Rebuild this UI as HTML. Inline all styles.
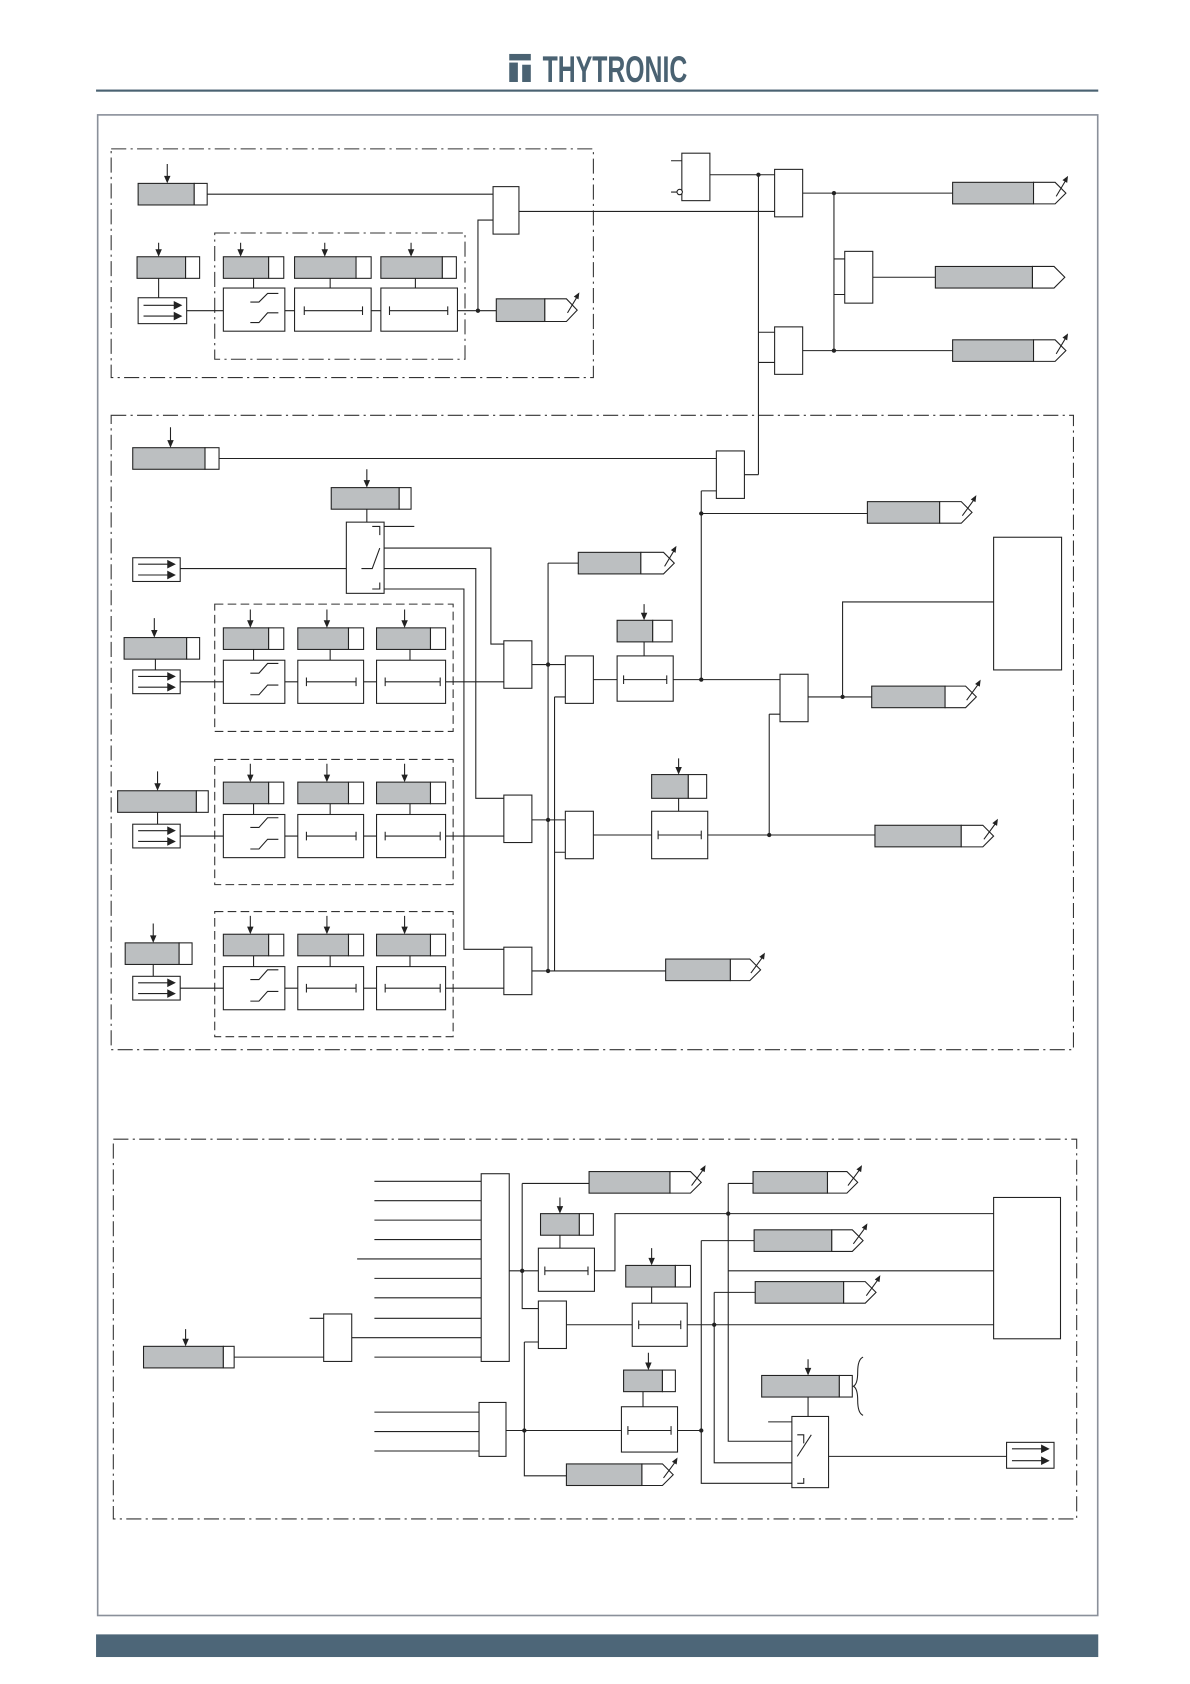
<!DOCTYPE html>
<html><head><meta charset="utf-8"><style>
html,body{margin:0;padding:0;background:#fff}
svg{display:block}
</style></head><body>
<svg width="1190" height="1684" viewBox="0 0 1103 1561" xmlns="http://www.w3.org/2000/svg">
<!-- header -->
<g fill="#4a6272">
<rect x="472" y="50" width="20" height="6"/><rect x="472" y="58" width="8" height="18"/><rect x="484" y="60" width="8" height="16"/>
<text x="503" y="76" font-family="Liberation Sans, sans-serif" font-size="34" font-weight="bold" textLength="134" lengthAdjust="spacingAndGlyphs">THYTRONIC</text>
</g>
<rect x="89" y="83" width="929" height="2" fill="#4a6272"/>
<rect x="90.5" y="106.5" width="927" height="1391" fill="none" stroke="#8a909a" stroke-width="1.5"/>
<rect x="89" y="1515" width="929" height="21" fill="#4d6678"/>

<g stroke="#222" stroke-width="1" fill="none">
<g stroke-dasharray="14,4,2,4" stroke="#333">
<rect x="103" y="138" width="447" height="212"/>
<rect x="199" y="216" width="232" height="117"/>
<rect x="103" y="385" width="892" height="588"/>
<rect x="105" y="1056" width="893" height="352"/>
</g>
<g stroke-dasharray="8,4" stroke="#333">
<rect x="199" y="560" width="221" height="118"/>
<rect x="199" y="704" width="221" height="116"/>
<rect x="199" y="845" width="221" height="116"/>
</g>
</g>

<g stroke="#222" stroke-width="1">
<g fill="#bcbfc1">
<rect x="128" y="170" width="52" height="20"/>
<rect x="127" y="238" width="45" height="20"/>
<rect x="207" y="238" width="42" height="20"/><rect x="273" y="238" width="57" height="20"/><rect x="353" y="238" width="57" height="20"/>
<rect x="460" y="277" width="45" height="21"/>
<rect x="883" y="169" width="75" height="20"/><rect x="867" y="247" width="90" height="20"/><rect x="883" y="315" width="75" height="20"/>
<rect x="123" y="415" width="67" height="20"/>
<rect x="307" y="452" width="63" height="20"/>
<rect x="804" y="465" width="67" height="20"/>
<rect x="536" y="512" width="58" height="20"/>
<rect x="572" y="575" width="33" height="20"/>
<rect x="604" y="718" width="34" height="22"/>
<rect x="808" y="636" width="68" height="20"/>
<rect x="811" y="765" width="80" height="20"/>
<rect x="617" y="889" width="60" height="20"/>
<rect x="115" y="591" width="58" height="20"/><rect x="109" y="733" width="73" height="20"/><rect x="116" y="874" width="50" height="20"/>
<rect x="207" y="582" width="42" height="20"/><rect x="276" y="582" width="47" height="20"/><rect x="349" y="582" width="50" height="20"/>
<rect x="207" y="725" width="42" height="20"/><rect x="276" y="725" width="47" height="20"/><rect x="349" y="725" width="50" height="20"/>
<rect x="207" y="866" width="42" height="20"/><rect x="276" y="866" width="47" height="20"/><rect x="349" y="866" width="50" height="20"/>
<rect x="133" y="1248" width="74" height="20"/>
<rect x="546" y="1086" width="75" height="20"/>
<rect x="501" y="1125" width="36" height="20"/>
<rect x="580" y="1173" width="46" height="20"/>
<rect x="578" y="1270" width="36" height="20"/>
<rect x="525" y="1357" width="70" height="20"/>
<rect x="698" y="1086" width="69" height="20"/>
<rect x="699" y="1140" width="72" height="20"/>
<rect x="700" y="1188" width="82" height="20"/>
<rect x="706" y="1275" width="72" height="20"/>
</g>
<g fill="#fff">
<rect x="180" y="170" width="12" height="20"/>
<rect x="172" y="238" width="13" height="20"/>
<rect x="249" y="238" width="14" height="20"/><rect x="330" y="238" width="14" height="20"/><rect x="410" y="238" width="13" height="20"/>
<rect x="190" y="415" width="13" height="20"/>
<rect x="370" y="452" width="11" height="20"/>
<rect x="605" y="575" width="18" height="20"/>
<rect x="638" y="718" width="17" height="22"/>
<rect x="173" y="591" width="12" height="20"/><rect x="182" y="733" width="11" height="20"/><rect x="166" y="874" width="12" height="20"/>
<rect x="249" y="582" width="14" height="20"/><rect x="323" y="582" width="14" height="20"/><rect x="399" y="582" width="14" height="20"/>
<rect x="249" y="725" width="14" height="20"/><rect x="323" y="725" width="14" height="20"/><rect x="399" y="725" width="14" height="20"/>
<rect x="249" y="866" width="14" height="20"/><rect x="323" y="866" width="14" height="20"/><rect x="399" y="866" width="14" height="20"/>
<rect x="207" y="1248" width="10" height="20"/>
<rect x="537" y="1125" width="13" height="20"/>
<rect x="626" y="1173" width="14" height="20"/>
<rect x="614" y="1270" width="12" height="20"/>
<rect x="778" y="1275" width="12" height="20"/>
<path d="M505,277 H525 L535,287.5 L525,298 H505 Z"/>
<path d="M958,169 H978 L988,179 L978,189 H958 Z"/>
<path d="M957,247 H977 L987,257 L977,267 H957 Z"/>
<path d="M958,315 H978 L988,325 L978,335 H958 Z"/>
<path d="M871,465 H891 L901,475 L891,485 H871 Z"/>
<path d="M594,512 H615 L625,522 L615,532 H594 Z"/>
<path d="M876,636 H895 L905,646 L895,656 H876 Z"/>
<path d="M891,765 H911 L921,775 L911,785 H891 Z"/>
<path d="M677,889 H695 L705,899 L695,909 H677 Z"/>
<path d="M621,1086 H640 L650,1096 L640,1106 H621 Z"/>
<path d="M595,1357 H614 L624,1367 L614,1377 H595 Z"/>
<path d="M767,1086 H785 L795,1096 L785,1106 H767 Z"/>
<path d="M771,1140 H790 L800,1150 L790,1160 H771 Z"/>
<path d="M782,1188 H802 L812,1198 L802,1208 H782 Z"/>
</g>
</g>

<g stroke="#222" stroke-width="1" fill="#fff">
<rect x="457" y="173" width="24" height="44"/>
<rect x="632" y="142" width="26" height="44"/>
<rect x="718" y="157" width="26" height="44"/>
<rect x="718" y="303" width="26" height="44"/>
<rect x="783" y="233" width="26" height="48"/>
<rect x="128" y="276" width="45" height="24"/>
<rect x="207" y="267" width="57" height="40"/><rect x="273" y="267" width="71" height="40"/><rect x="353" y="267" width="71" height="40"/>
<rect x="664" y="418" width="26" height="44"/>
<rect x="321" y="484" width="35" height="66"/>
<rect x="123" y="517" width="44" height="22"/>
<rect x="123" y="621" width="44" height="22"/><rect x="123" y="764" width="44" height="22"/><rect x="123" y="905" width="44" height="22"/>
<rect x="207" y="612" width="57" height="40"/><rect x="276" y="612" width="61" height="40"/><rect x="349" y="612" width="64" height="40"/>
<rect x="207" y="755" width="57" height="40"/><rect x="276" y="755" width="61" height="40"/><rect x="349" y="755" width="64" height="40"/>
<rect x="207" y="896" width="57" height="40"/><rect x="276" y="896" width="61" height="40"/><rect x="349" y="896" width="64" height="40"/>
<rect x="467" y="594" width="26" height="44"/><rect x="467" y="737" width="26" height="44"/><rect x="467" y="878" width="26" height="44"/>
<rect x="524" y="608" width="26" height="44"/><rect x="524" y="752" width="26" height="44"/>
<rect x="572" y="608" width="52" height="42"/>
<rect x="604" y="752" width="52" height="44"/>
<rect x="723" y="625" width="26" height="44"/>
<rect x="921" y="498" width="63" height="123"/>
<rect x="300" y="1218" width="26" height="44"/>
<rect x="446" y="1088" width="26" height="174"/>
<rect x="444" y="1300" width="25" height="50"/>
<rect x="499" y="1157" width="52" height="40"/>
<rect x="499" y="1206" width="26" height="44"/>
<rect x="586" y="1208" width="51" height="40"/>
<rect x="576" y="1304" width="52" height="42"/>
<rect x="921" y="1110" width="62" height="131"/>
<rect x="734" y="1313" width="34" height="66"/>
<rect x="933" y="1337" width="44" height="24"/>
</g>

<g stroke="#222" stroke-width="1" fill="none">
<path d="M192,180H457 M481,196H718 M173,288H207 M264,288H273 M344,288H353 M424,288H460 M443,288V204H457 M147,258V276"/>
<path d="M622,149H632 M622,178H628 M658,162H718 M703,162V440 M703,308H718 M703,336H718 M744,179H883 M773,179V325 M773,240H783 M773,273H783 M809,257H867 M744,325H883"/>
<path d="M203,425H664 M690,440H703 M650,455H664 M650,455V630 M650,476H804"/>
<path d="M167,527H321 M356,488H384 M356,508H455V597H467 M356,527H441V740H467 M356,546H430V880H467 M340,472V484"/>
<path d="M167,632H207 M264,632H276 M337,632H349 M413,632H467 M144,611V621"/>
<path d="M167,775H207 M264,775H276 M337,775H349 M413,775H467 M146,753V764"/>
<path d="M167,916H207 M264,916H276 M337,916H349 M413,916H467 M142,894V905"/>
<path d="M235,602V612 M306,602V612 M380,602V612 M235,745V755 M306,745V755 M380,745V755 M235,886V896 M306,886V896 M380,886V896 M235,258V267 M306,258V267 M385,258V267"/>
<path d="M493,616H524 M508,522V900 M508,522H536 M514,646H524 M514,646V900 M493,760H524 M514,790H524 M493,900H617 M550,630H572 M597,595V608 M624,630H723 M713,662H723 M713,662V774 M749,646H808 M781,646V558H921 M550,774H604 M629,740V752 M656,774H811"/>
<path d="M217,1258H300 M287,1222H300 M326,1240H446 M347,1095H446 M347,1113H446 M347,1131H446 M347,1149H446 M331,1167H446 M347,1185H446 M347,1203H446 M347,1222H446 M347,1258H446 M347,1309H444 M347,1327H444 M347,1345H444"/>
<path d="M472,1178H499 M484,1097V1213H499 M484,1097H546 M519,1145V1157 M551,1178H570V1125H921 M525,1228H586 M604,1193V1208 M637,1228H921 M486,1244H499 M486,1244V1368H525 M469,1326H576 M596,1290V1304 M628,1326H650 M650,1150V1375H734 M650,1150H699 M662,1198V1356H734 M662,1198H700 M675,1097V1336H734 M675,1097H698 M675,1178H921 M768,1350H933 M749,1295V1313 M712,1318H734"/>
<path d="M800,1258 Q795,1260 795,1272 Q795,1283 791,1285 Q795,1287 795,1298 Q795,1310 800,1312"/>
<path d="M335,527H345L352,508"/><path d="M345,488H352V496 M345,546H352V540"/>
<path d="M739,1330H745V1338 M739,1375H745V1370 M739,1350L752,1330"/>
<path d="M232,299H240L248,290H258 M232,280H240L248,272H258"/>
<path d="M232,644H240L248,635H258 M232,624H240L248,615H258"/>
<path d="M232,787H240L248,778H258 M232,767H240L248,758H258"/>
<path d="M232,928H240L248,919H258 M232,908H240L248,899H258"/>
<path d="M282,288H336 M282,284V292 M336,284V292 M361,288H415 M361,284V292 M415,284V292"/>
<path d="M284,632H330 M284,628V636 M330,628V636 M357,632H408 M357,628V636 M408,628V636 M578,630H618 M578,626V634 M618,626V634"/>
<path d="M284,775H330 M284,771V779 M330,771V779 M357,775H408 M357,771V779 M408,771V779 M610,774H650 M610,770V778 M650,770V778"/>
<path d="M284,916H330 M284,912V920 M330,912V920 M357,916H408 M357,912V920 M408,912V920"/>
<path d="M505,1178H545 M505,1174V1182 M545,1174V1182 M592,1228H631 M592,1224V1232 M631,1224V1232 M582,1326H622 M582,1322V1330 M622,1322V1330"/>
<!-- arrow shafts -->
<path d="M133,283H162 M133,293H162 M128,523H156 M128,533H156 M128,627H156 M128,637H156 M128,770H156 M128,780H156 M128,911H156 M128,921H156 M938,1343H966 M938,1354H966"/>
<path d="M155,152V165 M147,225V233 M223,225V233 M301,225V233 M381,225V233 M158,396V410 M340,435V447 M143,573V586 M146,715V728 M142,856V869 M232,565V577 M303,565V577 M375,565V577 M232,708V720 M303,708V720 M375,708V720 M232,849V861 M303,849V861 M375,849V861 M597,560V570 M629,703V713 M172,1232V1243 M519,1110V1120 M604,1157V1168 M601,1254V1265 M749,1260V1270"/>
<path d="M526,290L535,275 M979,182L988,167 M979,328L988,313 M892,478L903,463 M616,525L625,510 M896,649L907,634 M912,778L923,763 M696,902L707,887 M641,1099L652,1084 M786,1099L797,1084 M791,1153L802,1138 M803,1201L814,1186 M615,1370L626,1355"/>
</g>
<circle cx="630" cy="178" r="2.5" fill="#fff" stroke="#222"/>
<g fill="#222">
<circle cx="443" cy="288" r="2"/><circle cx="703" cy="162" r="2"/><circle cx="773" cy="179" r="2"/><circle cx="773" cy="325" r="2"/>
<circle cx="650" cy="476" r="2"/><circle cx="650" cy="630" r="2"/><circle cx="508" cy="616" r="2"/><circle cx="508" cy="760" r="2"/><circle cx="508" cy="900" r="2"/>
<circle cx="781" cy="646" r="2"/><circle cx="713" cy="774" r="2"/><circle cx="484" cy="1178" r="2"/><circle cx="486" cy="1326" r="2"/>
<circle cx="662" cy="1228" r="2"/><circle cx="650" cy="1326" r="2"/><circle cx="675" cy="1125" r="2"/>
<!-- right arrowheads -->
<path d="M161,279L169,283L161,287Z M161,289L169,293L161,297Z M155,519L163,523L155,527Z M155,529L163,533L155,537Z M155,623L163,627L155,631Z M155,633L163,637L155,641Z M155,766L163,770L155,774Z M155,776L163,780L155,784Z M155,907L163,911L155,915Z M155,917L163,921L155,925Z M965,1339L973,1343L965,1347Z M965,1350L973,1354L965,1358Z"/>
<!-- down arrowheads -->
<path d="M152,163L158,163L155,170Z M144,231L150,231L147,238Z M220,231L226,231L223,238Z M298,231L304,231L301,238Z M378,231L384,231L381,238Z M155,408L161,408L158,415Z M337,445L343,445L340,452Z M140,584L146,584L143,591Z M143,726L149,726L146,733Z M139,867L145,867L142,874Z M229,575L235,575L232,582Z M300,575L306,575L303,582Z M372,575L378,575L375,582Z M229,718L235,718L232,725Z M300,718L306,718L303,725Z M372,718L378,718L375,725Z M229,859L235,859L232,866Z M300,859L306,859L303,866Z M372,859L378,859L375,866Z M594,568L600,568L597,575Z M626,711L632,711L629,718Z M169,1241L175,1241L172,1248Z M516,1118L522,1118L519,1125Z M601,1166L607,1166L604,1173Z M598,1263L604,1263L601,1270Z M746,1268L752,1268L749,1275Z"/>
<!-- diagonal arrowheads -->
<path d="M537,271l-0.8,6.5l-4.4,-2.5Z M990,163l-0.8,6.5l-4.4,-2.5Z M990,309l-0.8,6.5l-4.4,-2.5Z M905,459l-0.8,6.5l-4.4,-2.5Z M627,506l-0.8,6.5l-4.4,-2.5Z M909,630l-0.8,6.5l-4.4,-2.5Z M925,759l-0.8,6.5l-4.4,-2.5Z M709,883l-0.8,6.5l-4.4,-2.5Z M654,1080l-0.8,6.5l-4.4,-2.5Z M799,1080l-0.8,6.5l-4.4,-2.5Z M804,1134l-0.8,6.5l-4.4,-2.5Z M816,1182l-0.8,6.5l-4.4,-2.5Z M628,1351l-0.8,6.5l-4.4,-2.5Z"/>
</g>
</svg>
</body></html>
